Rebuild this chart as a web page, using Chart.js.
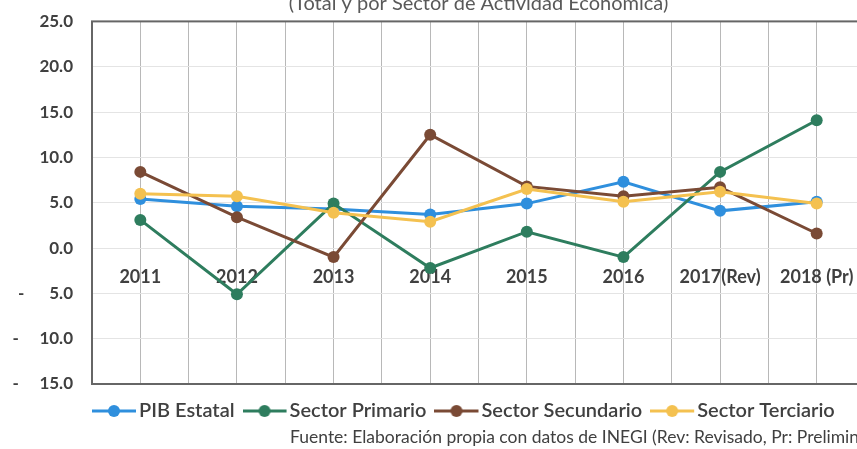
<!DOCTYPE html>
<html>
<head>
<meta charset="utf-8">
<script src="https://cdn.jsdelivr.net/npm/chart.js@4"></script>
<style>
  html, body { margin: 0; padding: 0; background: #fff; overflow: hidden; }
  #wrap { position: absolute; left: 0; top: -14px; width: 900px; height: 463px; }
</style>
</head>
<body>
<div id="wrap"><canvas id="chart"></canvas></div>
<script>
// ---- data ----
const years = ['2011', '2012', '2013', '2014', '2015', '2016', '2017(Rev)', '2018 (Pr)'];
const pibEstatal = [5.4, 4.6, 4.3, 3.7, 4.9, 7.3, 4.1, 5.1];
const sectorPrimario = [3.1, -5.1, 4.9, -2.2, 1.8, -1.0, 8.4, 14.1];
const sectorSecundario = [8.4, 3.4, -1.0, 12.5, 6.8, 5.7, 6.7, 1.6];
const sectorTerciario = [6.0, 5.7, 3.9, 2.9, 6.5, 5.1, 6.2, 4.9];
const yTicks = { min: -15, max: 25, step: 5 };

const COLORS = {
  pib: '#2f8fdd',
  primario: '#2e7d5e',
  secundario: '#7a4a35',
  terciario: '#f4c150',
  text: '#404040'
};
const FONT = 'Lato, "Open Sans", sans-serif';

// line + dot marker for the legend; drawn a little left of its box so the
// label sits close to it, like the Excel legend
function legendMarker(color) {
  const c = document.createElement('canvas');
  c.width = 45; c.height = 14;
  const g = c.getContext('2d');
  g.strokeStyle = color;
  g.lineWidth = 3;
  g.beginPath(); g.moveTo(0, 7); g.lineTo(44, 7); g.stroke();
  g.fillStyle = color;
  g.beginPath(); g.arc(22, 7, 6, 0, Math.PI * 2); g.fill();
  return c;
}

// dark frame round the plot area
const plotBorder = {
  id: 'plotBorder',
  beforeDatasetsDraw(chart) {
    const { ctx, chartArea: a } = chart;
    ctx.save();
    ctx.strokeStyle = '#666';
    ctx.lineWidth = 2;
    ctx.strokeRect(a.left, a.top, a.right - a.left, a.bottom - a.top);
    ctx.restore();
  }
};

// legend starts flush with the plot frame
const legendNudge = {
  id: 'legendNudge',
  afterLayout(chart) {
    const l = chart.legend;
    if (l) { l.left -= 8; l.right -= 8; }
  }
};

// source note under the legend (runs off the right edge in the original)
const footnote = {
  id: 'footnote',
  afterDraw(chart) {
    const { ctx } = chart;
    ctx.save();
    ctx.font = '17.5px ' + FONT;
    ctx.fillStyle = COLORS.text;
    ctx.textBaseline = 'middle';
    ctx.fillText('Fuente: Elaboración propia con datos de INEGI (Rev: Revisado, Pr: Preliminar)', 290, 451);
    ctx.restore();
  }
};

function series(label, data, color, order) {
  return {
    label,
    data,
    borderColor: color,
    backgroundColor: color,
    borderWidth: 3,
    pointRadius: 6,
    pointBorderWidth: 0,
    pointBackgroundColor: color,
    tension: 0,
    order,
    marker: legendMarker(color)
  };
}

function negLabel(v) {
  if (v >= 0) return v.toFixed(1);
  const a = Math.abs(v);
  return '-' + (a < 10 ? '      ' : '     ') + a.toFixed(1);
}

new Chart(document.getElementById('chart'), {
  type: 'line',
  data: {
    labels: years,
    datasets: [
      series('PIB Estatal', pibEstatal, COLORS.pib, 4),
      series('Sector Primario', sectorPrimario, COLORS.primario, 3),
      series('Sector Secundario', sectorSecundario, COLORS.secundario, 2),
      series('Sector Terciario', sectorTerciario, COLORS.terciario, 1)
    ]
  },
  options: {
    responsive: true,
    maintainAspectRatio: false,
    animation: false,
    layout: { padding: { left: 0, right: 35, top: 0, bottom: 18 } },
    scales: {
      x: {
        type: 'category',
        offset: true,
        position: { y: 0 },
        grid: { color: '#b8b8b8', offset: false, drawTicks: false },
        border: { display: false },
        ticks: {
          color: COLORS.text,
          font: { family: FONT, size: 18, weight: 'bold' },
          padding: 18,
          maxRotation: 0,
          autoSkip: false
        }
      },
      x2: {
        type: 'category',
        offset: true,
        position: 'bottom',
        grid: { color: '#b8b8b8', offset: true, drawTicks: false },
        border: { display: false },
        ticks: { display: false },
        afterFit: s => { s.height = 1; }
      },
      y: {
        min: yTicks.min,
        max: yTicks.max,
        ticks: {
          stepSize: yTicks.step,
          color: COLORS.text,
          font: { family: FONT, size: 17, weight: 'bold' },
          padding: 19,
          callback: negLabel
        },
        grid: { color: '#e4e4e4', drawTicks: false },
        border: { display: false },
        afterFit: s => { s.width = 92; }
      }
    },
    plugins: {
      title: {
        display: true,
        fullSize: false,
        text: '(Total y por Sector de Actividad Económica)',
        color: '#595959',
        font: { family: FONT, size: 20, weight: 'normal' },
        padding: { top: 6, bottom: 5.4 }
      },
      legend: {
        position: 'bottom',
        align: 'start',
        fullSize: false,
        labels: {
          usePointStyle: true,
          pointStyleWidth: 29,
          boxHeight: 12,
          padding: 16,
          color: COLORS.text,
          font: { family: FONT, size: 20, weight: '600' },
          sort: (a, b) => a.datasetIndex - b.datasetIndex,
          generateLabels(chart) {
            const items = Chart.defaults.plugins.legend.labels.generateLabels(chart);
            items.forEach(it => {
              it.pointStyle = chart.data.datasets[it.datasetIndex].marker;
            });
            return items;
          }
        }
      },
      tooltip: { enabled: false }
    }
  },
  plugins: [plotBorder, legendNudge, footnote]
});
</script>
</body>
</html>
